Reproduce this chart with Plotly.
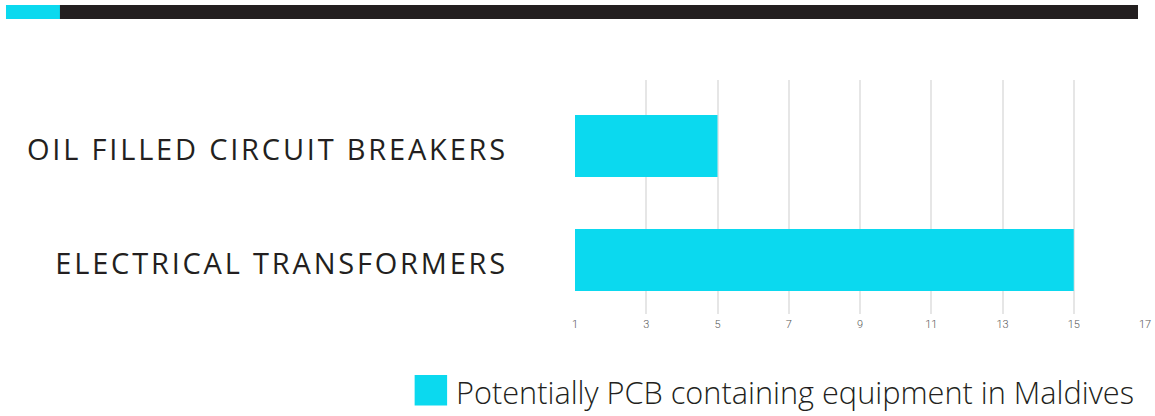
import plotly.graph_objects as go

categories = ["ELECTRICAL TRANSFORMERS", "OIL FILLED CIRCUIT BREAKERS"]
values = [15, 5]
series_name = "Potentially PCB containing equipment in Maldives"
tick_vals = [1, 3, 5, 7, 9, 11, 13, 15, 17]

W, H = 1155, 416
L, R, T, B = 574.5, 1145, 80, 314
CYAN = "#0BD9EF"
DARK = "#231F20"

def px(x):
    return (x - L) / (R - L)

def py(y):
    return (B - y) / (B - T)

fig = go.Figure()
fig.add_trace(go.Bar(
    y=categories, x=values, orientation="h", name=series_name,
    marker=dict(color=CYAN, line=dict(width=0)), width=0.544,
    showlegend=False,
))

fig.update_layout(
    width=W, height=H, autosize=False,
    margin=dict(l=L, r=W - R, t=T, b=H - B, pad=0),
    paper_bgcolor="white", plot_bgcolor="white",
    xaxis=dict(range=[1, 17], tickvals=tick_vals, showgrid=True, automargin=False,
               gridcolor="#E6E6E6", gridwidth=1.5, zeroline=False,
               showline=False, ticks="", ticklabelstandoff=2,
               tickfont=dict(family="Roboto", size=11, color="#595959", weight=300)),
    yaxis=dict(range=[-0.474, 1.579], showgrid=False, zeroline=False, automargin=False,
               showline=False, ticks="", ticklabelstandoff=66,
               tickfont=dict(family="Open Sans", size=29, color=DARK)),
    shapes=[
        dict(type="rect", xref="paper", yref="paper", x0=px(5), x1=px(1138),
             y0=py(19), y1=py(5), fillcolor=DARK, line=dict(width=0), layer="above"),
        dict(type="rect", xref="paper", yref="paper", x0=px(5), x1=px(59),
             y0=py(19), y1=py(5), fillcolor=CYAN, line=dict(width=0), layer="above"),
        dict(type="rect", xref="paper", yref="paper", x0=px(414), x1=px(446.5),
             y0=py(405.5), y1=py(375), fillcolor=CYAN, line=dict(width=0), layer="above"),
    ],
    annotations=[
        dict(xref="paper", yref="paper", x=px(453), y=py(392), xanchor="left",
             yanchor="middle", showarrow=False, text=series_name,
             font=dict(family="Open Sans", size=30.7, color=DARK, weight=300)),
    ],
)

post = """
document.body.style.margin = '0';
document.body.style.overflow = 'hidden';
document.querySelectorAll('.ytick text').forEach(function(t){
  t.style.letterSpacing = '2.8px';
  t.setAttribute('dy', '4');
});
"""
fig.write_html("out.html", post_script=post, config={"displayModeBar": False})
